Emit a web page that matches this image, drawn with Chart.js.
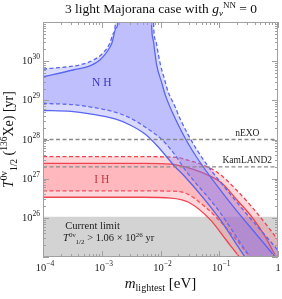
<!DOCTYPE html>
<html>
<head>
<meta charset="utf-8">
<script src="https://cdn.jsdelivr.net/npm/chart.js@4.4.0/dist/chart.umd.min.js"></script>
<style>
  html, body { margin: 0; padding: 0; background: #fff; }
  #wrap { width: 282px; height: 299px; position: relative; }
</style>
</head>
<body>
<div id="wrap"><canvas id="chart"></canvas></div>
<script>
/* === DATA (m_lightest [eV], T half-life [yr]) === */
const nhSolidUp = [[1e-4,4.0e29],[3.24e-4,5.95e29],[6.3e-4,7.6e29],[9.3e-4,1.07e30],[1.28e-3,1.9e30],[1.49e-3,2.91e30],[1.75e-3,7.0e30],[1.89e-3,1e31],[1.95e-3,1e33],
  [6.9e-3,1e33],[7.03e-3,1e31],[7.5e-3,3.5e30],[8.05e-3,1.62e30],[8.6e-3,8e29],[1.05e-2,2.8e29],[1.2e-2,1.4e29],[1.77e-2,3.5e28],[3.44e-2,5.4e27],[0.141,2.86e26],[0.889,1e25],[2,2e24]];
const nhSolidLow = [[1e-4,5.5e28],[3e-4,5.2e28],[6.3e-4,4.5e28],[1.68e-3,3.34e28],[3.03e-3,2.35e28],[5.45e-3,1.38e28],[9.06e-3,6.55e27],[1.77e-2,2.02e27],[2.61e-2,1.12e27],[9.53e-2,1.07e26],[0.274,1e25],[2,2e23]];
const nhDashUp = [[1e-4,6.2e29],[6.3e-4,9.7e29],[1.05e-3,1.62e30],[1.38e-3,2.91e30],[1.58e-3,5.2e30],[1.71e-3,1e31],[1.75e-3,1e33],
  [7.5e-3,1e33],[7.6e-3,1e31],[8.2e-3,3.5e30],[9.2e-3,1.5e30],[1.0e-2,8e29],[1.15e-2,3.8e29],[1.34e-2,1.7e29],[1.77e-2,6.9e28],[2.15e-2,3.4e28],[4.18e-2,5.4e27],[0.185,2.86e26],[1.08,1.27e25],[2,3.7e24]];
const nhDashLow = [[1e-4,8.3e28],[3e-4,7.8e28],[6.3e-4,6.8e28],[1.68e-3,5.0e28],[3.03e-3,3.54e28],[5.45e-3,2.09e28],[1.06e-2,9.9e27],[1.77e-2,4.0e27],[2.61e-2,1.7e27],[9.53e-2,1.61e26],[0.333,1e25],[2,2.8e23]];

const ihSolidUp = [[1e-4,2.47e27],[5e-3,2.47e27],[1.5e-2,2.35e27],[2.61e-2,2.0e27],[5e-2,1.45e27],[0.11,7.8e26],[0.2,2.86e26],[0.356,1.07e26],[0.6,3.4e25],[0.85,1.3e25],[2,2e24]];
const ihSolidLow = [[1e-4,3.35e26],[5e-3,3.35e26],[1.5e-2,3.2e26],[3e-2,2.5e26],[7e-2,9e25],[0.134,2.6e25],[0.22,1e25],[2,1.2e23]];
const ihDashUp = [[1e-4,3.64e27],[5e-3,3.64e27],[1.91e-2,3.5e27],[2.61e-2,3.1e27],[5e-2,2.3e27],[9.6e-2,1.4e27],[0.2,5e26],[0.356,1.93e26],[0.7,5.5e25],[1.15,2.0e25],[2,6e24]];
const ihDashLow = [[1e-4,4.9e26],[5e-3,4.9e26],[1.5e-2,4.8e26],[2.4e-2,4.5e26],[5.7e-2,1.93e26],[0.141,4.9e25],[0.333,1e25],[2,2.8e23]];

const currentLimit = 1.06e26;
const nexoLimit = 1e28;
const kamland2Limit = 2e27;

const xTicks = [1e-4, 1e-3, 1e-2, 1e-1, 1];
const xTickLabels = [['10','\u22124'], ['10','\u22123'], ['10','\u22122'], ['10','\u22121'], ['1','']];
const yTicks = [1e26, 1e27, 1e28, 1e29, 1e30];
const yTickLabels = [['10','26'], ['10','27'], ['10','28'], ['10','29'], ['10','30']];

/* === STYLE === */
const SERIF = '"Liberation Serif", "DejaVu Serif", serif';
const BLUE_LINE = '#5866f0';
const BLUE_FILL = 'rgba(118,118,250,0.27)';
const RED_LINE = '#ee4452';
const RED_FILL = 'rgba(255,105,115,0.27)';
const DASH = [4, 2.5];

const toPts = arr => arr.map(([x, y]) => ({ x, y }));

const datasets = [];
function addLine(pts, color, dashed, order, fillTo, fillColor) {
  datasets.push({
    data: toPts(pts),
    borderColor: color,
    borderWidth: 1.3,
    borderDash: dashed ? DASH : [],
    pointRadius: 0,
    cubicInterpolationMode: 'monotone',
    fill: fillTo === undefined ? false : fillTo,
    backgroundColor: fillColor || 'transparent',
    order: order
  });
  return datasets.length - 1;
}

// reference lines (on top)
addLine([[1e-4, nexoLimit], [1, nexoLimit]], '#8a8a8a', true, 0);
addLine([[1e-4, kamland2Limit], [1, kamland2Limit]], '#8a8a8a', true, 0);

// NH band
let i = addLine(nhSolidUp, BLUE_LINE, false, 2);
addLine(nhSolidLow, BLUE_LINE, false, 2, i, BLUE_FILL);
i = addLine(nhDashUp, BLUE_LINE, true, 2);
addLine(nhDashLow, BLUE_LINE, true, 2, i, BLUE_FILL);

// IH band
i = addLine(ihSolidUp, RED_LINE, false, 4);
addLine(ihSolidLow, RED_LINE, false, 4, i, RED_FILL);
i = addLine(ihDashUp, RED_LINE, true, 4);
addLine(ihDashLow, RED_LINE, true, 4, i, RED_FILL);

// current limit shading
datasets.push({
  data: toPts([[1e-4, currentLimit], [1, currentLimit]]),
  borderWidth: 0, pointRadius: 0, fill: 'start',
  backgroundColor: '#d3d3d3', order: 10
});

/* === TEXT HELPERS === */
// run: [text, size, italic, dy]
function richText(ctx, x, y, runs, align) {
  let total = 0;
  runs.forEach(r => { ctx.font = (r[2] ? 'italic ' : '') + r[1] + 'px ' + SERIF; total += ctx.measureText(r[0]).width; });
  let cx = align === 'center' ? x - total / 2 : align === 'right' ? x - total : x;
  ctx.textAlign = 'left';
  ctx.textBaseline = 'alphabetic';
  runs.forEach(r => {
    ctx.font = (r[2] ? 'italic ' : '') + r[1] + 'px ' + SERIF;
    ctx.fillText(r[0], cx, y + (r[3] || 0));
    cx += ctx.measureText(r[0]).width;
  });
}

const decorations = {
  id: 'decorations',
  afterDraw(chart) {
    const { ctx, chartArea: a, scales: { x, y } } = chart;
    ctx.save();

    // frame + inward ticks
    ctx.strokeStyle = '#a0a0a0';
    ctx.lineWidth = 1;
    ctx.strokeRect(a.left + 0.5, a.top + 0.5, a.right - a.left - 1, a.bottom - a.top - 1);
    const seg = (x1, y1, x2, y2) => { ctx.beginPath(); ctx.moveTo(x1, y1); ctx.lineTo(x2, y2); ctx.stroke(); };
    for (let d = -4; d <= 0; d++) {
      for (let k = 1; k <= 9; k++) {
        const v = k * Math.pow(10, d);
        if (v > 1.0001) break;
        const px = Math.round(x.getPixelForValue(v)) + 0.5;
        const len = k === 1 ? 6 : 3;
        seg(px, a.bottom, px, a.bottom - len);
        seg(px, a.top, px, a.top + len);
      }
    }
    for (let d = 25; d <= 31; d++) {
      for (let k = 1; k <= 9; k++) {
        const v = k * Math.pow(10, d);
        if (v > 1.0001e31) break;
        const py = Math.round(y.getPixelForValue(v)) + 0.5;
        const len = k === 1 ? 6 : 3;
        seg(a.left, py, a.left + len, py);
        seg(a.right, py, a.right - len, py);
      }
    }

    ctx.fillStyle = '#222';
    // tick labels
    xTicks.forEach((v, j) => {
      const lab = xTickLabels[j];
      richText(ctx, x.getPixelForValue(v) + (lab[1] ? 2 : 0), a.bottom + 14, [[lab[0], 10.5], [lab[1], 7.5, false, -5]], 'center');
    });
    yTicks.forEach((v, j) => {
      const lab = yTickLabels[j];
      richText(ctx, a.left - 3, y.getPixelForValue(v) + 3, [[lab[0], 10.5], [lab[1], 7.5, false, -5]], 'right');
    });

    // title
    ctx.fillStyle = '#111';
    richText(ctx, 161, 13, [['3 light Majorana case with ', 13.5], ['g', 13.5, true], ['\u03bd', 9, true, 3], ['NN', 9, false, -5], [' = 0', 13.5]], 'center');

    // axis titles
    richText(ctx, (a.left + a.right) / 2, 288, [['m', 15, true], ['lightest', 10, false, 3], [' [eV]', 15]], 'center');
    ctx.save();
    ctx.translate(13, (a.top + a.bottom) / 2);
    ctx.rotate(-Math.PI / 2);
    richText(ctx, 0, 0, [['T', 14, true], ['0\u03bd', 9.5, false, -6], ['1/2', 9.5, false, 4], [' (', 14], ['136', 9.5, false, -6], ['Xe) [yr]', 14]], 'center');
    ctx.restore();

    // annotations
    ctx.fillStyle = '#222';
    richText(ctx, x.getPixelForValue(0.3), y.getPixelForValue(nexoLimit) - 4, [['nEXO', 9.5]], 'center');
    richText(ctx, x.getPixelForValue(0.3), y.getPixelForValue(kamland2Limit) - 4, [['KamLAND2', 9.5]], 'center');
    ctx.fillStyle = '#3535c8';
    richText(ctx, x.getPixelForValue(1e-3), y.getPixelForValue(2.3e29), [['N H', 11.5]], 'center');
    ctx.fillStyle = '#c43540';
    richText(ctx, x.getPixelForValue(1e-3), y.getPixelForValue(7.6e26), [['I H', 11.5]], 'center');
    ctx.fillStyle = '#222';
    richText(ctx, x.getPixelForValue(2.4e-4), y.getPixelForValue(5.2e25), [['Current limit', 10.5]], 'left');
    richText(ctx, x.getPixelForValue(2.2e-4), y.getPixelForValue(2.6e25),
      [['T', 10.5, true], ['0\u03bd', 7, false, -4], ['1/2', 7, false, 3], [' > 1.06 \u00d7 10', 10.5], ['26', 7, false, -4], [' yr', 10.5]], 'left');

    ctx.restore();
  }
};

window.addEventListener('load', () => {
  new Chart(document.getElementById('chart').getContext('2d'), {
    type: 'line',
    data: { datasets },
    options: {
      responsive: true,
      maintainAspectRatio: false,
      animation: false,
      layout: { padding: { left: 43, right: 4, top: 22, bottom: 42 } },
      scales: {
        x: { type: 'logarithmic', min: 1e-4, max: 1, display: false },
        y: { type: 'logarithmic', min: 1e25, max: 1e31, display: false }
      },
      plugins: { legend: { display: false }, tooltip: { enabled: false } }
    },
    plugins: [decorations]
  });
});
</script>
</body>
</html>
